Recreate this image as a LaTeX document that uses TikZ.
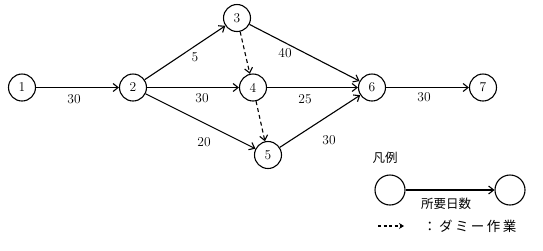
\documentclass[tikz,border=0pt]{standalone}
\usepackage{fontspec}
\newfontfamily\jp{Noto Sans CJK JP}
\newfontfamily\jpsp{Noto Sans CJK JP}[LetterSpace=18]
\usetikzlibrary{arrows.meta}
\begin{document}
\begin{tikzpicture}[x=1pt,y=-1pt,
  ev/.style={circle,draw,line width=1.1pt,minimum size=27pt,inner sep=0pt,font=\fontsize{13.5}{13.5}\selectfont},
  act/.style={-{Straight Barb[length=5pt,width=8pt]},line width=1.1pt},
  dum/.style={act,dashed,dash pattern=on 4pt off 3pt},
  lbl/.style={font=\fontsize{13.5}{13.5}\selectfont},
  jlbl/.style={font=\jp\fontsize{12.5}{12.5}\selectfont}]
\useasboundingbox (0,0) rectangle (543,250);
\node[ev] (n1) at (22,87.5) {1};
\node[ev] (n2) at (133,87.5) {2};
\node[ev] (n3) at (237,18) {3};
\node[ev] (n4) at (253,87.5) {4};
\node[ev] (n5) at (268,155) {5};
\node[ev] (n6) at (372,87.5) {6};
\node[ev] (n7) at (483,87.5) {7};
\draw[act] (n1) -- (n2);
\draw[act] (n2) -- (n3);
\draw[act] (n2) -- (n4);
\draw[act] (n2) -- (n5);
\draw[act] (n3) -- (n6);
\draw[act] (n4) -- (n6);
\draw[act] (n5) -- (n6);
\draw[act] (n6) -- (n7);
\draw[dum] (n3) -- (n4);
\draw[dum] (n4) -- (n5);
\node[lbl] (l12) at (74,99) {30};
\node[lbl] (l23) at (195,57) {5};
\node[lbl] (l24) at (202,98) {30};
\node[lbl] (l25) at (204,142) {20};
\node[lbl] (l36) at (285,53) {40};
\node[lbl] (l46) at (305,99) {25};
\node[lbl] (l56) at (329,140) {30};
\node[lbl] (l67) at (424,97) {30};
% legend
\node[jlbl] (leg) at (385,158) {凡例};
\node[ev,minimum width=30pt,minimum height=27pt] (la) at (390,190) {};
\node[ev,minimum width=30pt,minimum height=27pt] (lb) at (510,190) {};
\draw[act] (la) -- (lb);
\node[jlbl] (days) at (446,204) {所要日数};
\coordinate (ds) at (378,226);
\coordinate (de) at (404,226);
\draw[line width=1.1pt,dash pattern=on 3pt off 2.5pt,-{Stealth[length=5pt,width=6pt]}] (ds) -- (de);
\node[font=\jpsp\fontsize{13.5}{13.5}\selectfont,anchor=west,inner sep=0pt] (dummy) at (423,226) {：ダミー作業};
\end{tikzpicture}
\end{document}
